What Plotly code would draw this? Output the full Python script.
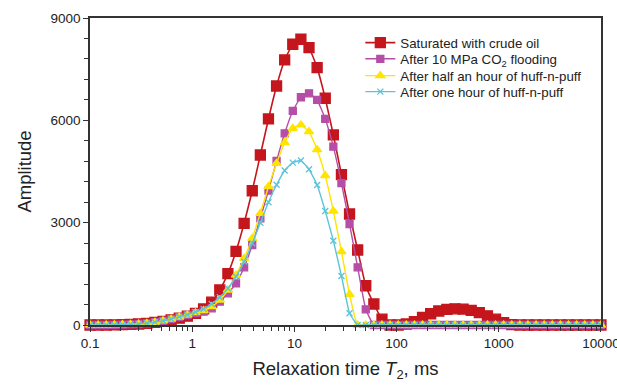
import plotly.graph_objects as go

# T2 relaxation times (ms), 64 log-spaced points 0.1 .. 10000
t2 = [0.1, 0.12005, 0.14411, 0.17300, 0.20769, 0.24933, 0.29932, 0.35938,
      0.43144, 0.51795, 0.62181, 0.74645, 0.89615, 1.0758, 1.2915, 1.5505,
      1.8614, 2.2346, 2.6827, 3.2205, 3.8662, 4.6416, 5.5722, 6.6897,
      8.0308, 9.6411, 11.574, 13.895, 16.681, 20.026, 24.041, 28.862,
      34.648, 41.595, 49.935, 59.948, 71.969, 86.397, 103.72, 124.52,
      149.49, 179.46, 215.44, 258.64, 310.50, 372.76, 447.50, 537.23,
      644.94, 774.26, 929.51, 1115.9, 1339.6, 1608.2, 1930.7, 2317.9,
      2782.6, 3340.5, 4010.3, 4814.5, 5779.9, 6938.8, 8330.0, 10000.0]

saturated = [0, 0, 0, 5, 10, 20, 30, 50, 75, 105, 150, 200, 260, 340, 470, 670,
             1026, 1505, 2160, 2982, 3935, 4984, 6040, 7007, 7770, 8230, 8377, 8131,
             7545, 6647, 5571, 4410, 3254, 2199, 1150, 616, 170, 0, 0,
             30, 100, 220, 330, 410, 460, 475, 465, 430, 360, 270, 170, 70, 10,
             0, 0, 0, 0, 0, 0, 0, 0, 0, 0, 0]

co2_flood = [0, 0, 0, 5, 10, 20, 30, 50, 80, 120, 170, 230, 290, 350, 390, 490,
             683, 929, 1222, 1692, 2346, 3128, 3938, 4808, 5620, 6275, 6676, 6793,
             6597, 6040, 5228, 4160, 2961, 1692, 460,
             0, 0, 0, 0, 0, 0, 0, 0, 0, 0, 0, 0, 0, 0, 0, 0, 0, 0, 0, 0, 0, 0, 0, 0,
             0, 0, 0, 0, 0]

half_hour = [0, 0, 0, 5, 10, 20, 30, 50, 80, 120, 170, 230, 290, 360, 420, 537,
             733, 1026, 1466, 1955, 2542, 3275, 4055, 4741, 5345, 5767, 5864, 5668,
             5140, 4380, 3342, 2149, 900,
             0, 0, 0, 0, 0, 0, 0, 0, 0, 0, 0, 0, 0, 0, 0, 0, 0, 0, 0, 0, 0, 0, 0, 0,
             0, 0, 0, 0, 0, 0, 0]

one_hour = [0, 0, 0, 5, 10, 20, 30, 50, 85, 125, 175, 240, 300, 380, 470, 616,
            812, 1075, 1416, 1857, 2395, 3000, 3600, 4110, 4530, 4760, 4820, 4565,
            4105, 3342, 2472, 1437, 343,
            0, 0, 0, 0, 0, 0, 0, 0, 0, 0, 0, 0, 0, 0, 0, 0, 0, 0, 0, 0, 0, 0, 0, 0,
            0, 0, 0, 0, 0, 0, 0]

x_tick_vals = [0.1, 1, 10, 100, 1000, 10000]
x_tick_text = ["0.1", "1", "10", "100", "1000", "10000"]
y_tick_vals = [0, 3000, 6000, 9000]

series = [
    ("Saturated with crude oil", saturated, "#C4161C", "square", 10, 1.6),
    ("After 10 MPa CO<sub>2</sub> flooding", co2_flood, "#B54EA6", "square", 7, 1.4),
    ("After half an hour of huff-n-puff", half_hour, "#FFE400", "triangle-up", 8, 1.4),
    ("After one hour of huff-n-puff", one_hour, "#5CC3DA", "x-thin", 6, 1.4),
]
legend_ids = ["legend", "legend2", "legend3", "legend4"]
legend_y = [0.9186, 0.866, 0.811, 0.759]

FONT = "Arial, Liberation Sans, sans-serif"

fig = go.Figure()
for (name, vals, color, sym, size, lw), lid in zip(series, legend_ids):
    fig.add_trace(go.Scatter(
        x=t2, y=vals, name=name, mode="lines+markers", legend=lid,
        line=dict(color=color, width=lw, shape="spline", smoothing=0.4),
        marker=dict(symbol=sym, size=size, color=color,
                    line=dict(color=color, width=1.3)),
        cliponaxis=False,
    ))

minor_vals = [m * 10 ** e for e in range(-1, 4) for m in range(2, 10)]

legend_common = dict(x=0.529, xanchor="left", yanchor="middle",
                     bgcolor="rgba(0,0,0,0)", font=dict(size=13.3, color="#222"),
                     itemwidth=30, borderwidth=0)
legend_layout = {lid: dict(y=ly, **legend_common) for lid, ly in zip(legend_ids, legend_y)}

fig.update_layout(
    width=617, height=389,
    margin=dict(l=90, r=16, t=18, b=64, autoexpand=False),
    paper_bgcolor="white", plot_bgcolor="white",
    font=dict(family=FONT, size=13.5, color="#222"),
    showlegend=True,
    xaxis=dict(
        type="log", range=[-1.0004, 4.0004], automargin=False,
        tickmode="array", tickvals=x_tick_vals, ticktext=x_tick_text,
        ticklabeloverflow="allow",
        ticks="outside", ticklen=5, tickcolor="#333", tickwidth=1,
        minor=dict(tickmode="array", tickvals=minor_vals, ticks="outside",
                   ticklen=4, tickcolor="#333", showgrid=False),
        showline=True, linecolor="#333", linewidth=1.5, mirror=True,
        showgrid=False, zeroline=False,
        title=dict(text="Relaxation time <i>T</i><sub>2</sub>, ms",
                   font=dict(size=18.5), standoff=12),
    ),
    yaxis=dict(
        range=[0, 9000], automargin=False,
        tickmode="array", tickvals=y_tick_vals,
        ticks="outside", ticklen=5, tickcolor="#333", tickwidth=1,
        minor=dict(dtick=600, tick0=0, ticks="outside", ticklen=4,
                   tickcolor="#333", showgrid=False),
        showline=True, linecolor="#333", linewidth=1.5, mirror=True,
        showgrid=False, zeroline=False,
        title=dict(text="Amplitude", font=dict(size=18.5), standoff=14),
    ),
    **legend_layout,
)

fig.write_html("out.html")
